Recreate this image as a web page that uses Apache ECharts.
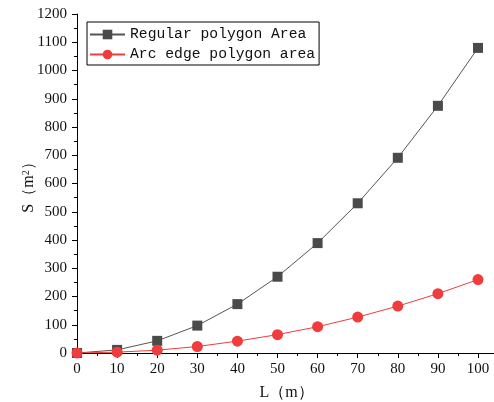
<!DOCTYPE html>
<html>
<head>
<meta charset="utf-8">
<script src="https://cdn.jsdelivr.net/npm/echarts@6/dist/echarts.min.js"></script>
<style>html,body{margin:0;padding:0;background:#fff;}#c{width:494px;height:402px;}</style>
</head>
<body>
<div id="c"></div>
<script>
const lengths = [0, 10, 20, 30, 40, 50, 60, 70, 80, 90, 100];
const regularArea = [0, 11, 43, 97, 173, 270, 389, 530, 691, 875, 1080];
const arcArea = [0, 3, 10, 23, 42, 65, 93, 127, 166, 210, 260];
const seriesNames = ['Regular polygon Area', 'Arc edge polygon area'];

const chart = echarts.init(document.getElementById('c'), null, {renderer: 'canvas'});
const serif = 'Liberation Serif';
chart.setOption({
  animation: false,
  backgroundColor: '#fff',
  grid: {left: 77, right: 16, top: 14, bottom: 49, outerBoundsMode: 'none', containLabel: false},
  legend: {
    orient: 'vertical', left: 87, top: 22,
    padding: [5, 4, 3, 2], itemGap: 5, itemWidth: 35, itemHeight: 12,
    borderColor: '#000', borderWidth: 1, borderRadius: 0,
    textStyle: {fontFamily: 'Liberation Mono', fontSize: 14.7, color: '#111'},
    data: seriesNames
  },
  xAxis: {
    type: 'value', min: 0, max: 100, interval: 10,
    name: 'L（m）', nameLocation: 'middle', nameGap: 32, nameMoveOverlap: false,
    nameTextStyle: {fontFamily: serif, fontSize: 16, color: '#111', padding: [0, 0, 0, 18]},
    axisLine: {lineStyle: {color: '#000', width: 1}},
    axisTick: {inside: false, length: 5, lineStyle: {color: '#000'}},
    minorTick: {show: true, splitNumber: 2, length: 3, lineStyle: {color: '#000'}},
    axisLabel: {fontFamily: serif, fontSize: 15, color: '#111', margin: 9, formatter: v => String(v)},
    splitLine: {show: false}
  },
  yAxis: {
    type: 'value', min: 0, max: 1200, interval: 100,
    name: 'S（m{sup|2}）', nameLocation: 'middle', nameGap: 40, nameRotate: 90, nameMoveOverlap: false,
    nameTextStyle: {fontFamily: serif, fontSize: 16, color: '#111',
      rich: {sup: {fontFamily: serif, fontSize: 10, verticalAlign: 'top', padding: [0,0,6,0], color: '#111'}}},
    axisLine: {show: true, lineStyle: {color: '#000', width: 1}},
    axisTick: {show: true, inside: false, length: 5, lineStyle: {color: '#000'}},
    minorTick: {show: true, splitNumber: 2, length: 3, lineStyle: {color: '#000'}},
    axisLabel: {fontFamily: serif, fontSize: 15, color: '#111', margin: 10, formatter: v => String(v)},
    splitLine: {show: false}
  },
  graphic: [{
    type: 'line', shape: {x1: 478, y1: 353.5, x2: 494, y2: 353.5},
    style: {stroke: '#000', lineWidth: 1}, silent: true
  }],
  series: [
    {
      name: seriesNames[0], type: 'line',
      data: lengths.map((x, i) => [x, regularArea[i]]),
      symbol: 'rect', symbolSize: 10,
      itemStyle: {color: '#4a4a4a'},
      lineStyle: {color: '#555', width: 1},
      z: 2
    },
    {
      name: seriesNames[1], type: 'line',
      data: lengths.map((x, i) => [x, arcArea[i]]),
      symbol: 'circle', symbolSize: 11,
      itemStyle: {color: '#f03c3c'},
      lineStyle: {color: '#f03c3c', width: 1},
      z: 3
    }
  ]
});
</script>
</body>
</html>
